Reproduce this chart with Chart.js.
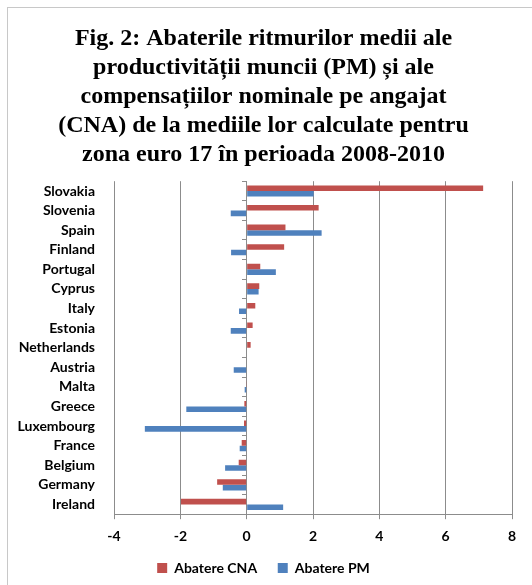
<!DOCTYPE html>
<html>
<head>
<meta charset="utf-8">
<script src="https://cdn.jsdelivr.net/npm/chart.js@4"></script>
<style>
  html, body { margin: 0; padding: 0; background: #fff; overflow: hidden; }
  #wrap { position: relative; width: 532px; height: 585px; }
  #frame { position: absolute; left: 7px; top: 7px; width: 600px; height: 700px; border: 1px solid #c8c8c8; box-sizing: border-box; }
  canvas { position: absolute; left: 0; top: 0; }
</style>
</head>
<body>
<div id="wrap">
  <div id="frame"></div>
  <canvas id="chart" width="532" height="585"></canvas>
</div>
<script>
const countries = ['Slovakia', 'Slovenia', 'Spain', 'Finland', 'Portugal', 'Cyprus', 'Italy', 'Estonia',
    'Netherlands', 'Austria', 'Malta', 'Greece', 'Luxembourg', 'France', 'Belgium', 'Germany', 'Ireland'];
// abaterea compensatiilor nominale pe angajat
const abatereCNA = [7.13, 2.17, 1.17, 1.13, 0.41, 0.38, 0.26, 0.18, 0.12, 0.0, -0.02, -0.07, -0.08, -0.15, -0.24, -0.89, -1.98];
// abaterea productivitatii muncii
const abaterePM = [2.02, -0.48, 2.26, -0.47, 0.88, 0.36, -0.23, -0.48, 0.0, -0.39, -0.06, -1.82, -3.07, -0.21, -0.65, -0.72, 1.10];
const xTicks = [-4, -2, 0, 2, 4, 6, 8];
const titleLines = [
    'Fig. 2: Abaterile ritmurilor medii ale',
    'productivității muncii (PM) și ale',
    'compensațiilor nominale pe angajat',
    '(CNA) de la mediile lor calculate pentru',
    'zona euro 17 în perioada 2008-2010'
];

const labelFont = { family: 'Lato, "Open Sans", sans-serif', size: 14, weight: 'bold' };

new Chart(document.getElementById('chart'), {
    type: 'bar',
    data: {
        labels: countries,
        datasets: [
            { label: 'Abatere CNA', data: abatereCNA, backgroundColor: '#C0504D', borderWidth: 0 },
            { label: 'Abatere PM', data: abaterePM, backgroundColor: '#4F81BD', borderWidth: 0 }
        ]
    },
    options: {
        indexAxis: 'y',
        responsive: false,
        animation: false,
        barPercentage: 1,
        categoryPercentage: 0.57,
        layout: { padding: { left: 15, right: 20, top: 0, bottom: 0 } },
        scales: {
            x: {
                min: xTicks[0],
                max: xTicks[xTicks.length - 1],
                afterBuildTicks: (axis) => { axis.ticks = xTicks.map(v => ({ value: v })); },
                grid: { color: '#8c8c8c', lineWidth: 1, tickLength: 5 },
                border: { color: '#8c8c8c' },
                ticks: { color: '#000', font: labelFont, padding: 9 }
            },
            y: {
                grid: { display: false, drawTicks: false },
                border: { display: false },
                ticks: { color: '#000', font: labelFont, padding: 19, autoSkip: false },
                afterFit: (axis) => { axis.width = 99; }
            },
            y2: {
                type: 'category',
                position: { x: 0 },
                grid: { drawOnChartArea: false, tickLength: 4, color: '#8c8c8c' },
                border: { color: '#8c8c8c' },
                ticks: { display: false, autoSkip: false }
            }
        },
        plugins: {
            title: {
                display: true,
                text: titleLines,
                color: '#000',
                font: { family: '"Liberation Serif", "Times New Roman", serif', size: 24, weight: 'bold', lineHeight: 1.21 },
                padding: { top: 24, bottom: 12 }
            },
            legend: {
                position: 'bottom',
                labels: {
                    color: '#000',
                    font: labelFont,
                    boxWidth: 10,
                    boxHeight: 10,
                    padding: 7,
                    // small vertical padding, so widen the gap between the two items with spaces
                    generateLabels: (chart) => {
                        const items = Chart.defaults.plugins.legend.labels.generateLabels(chart);
                        items[0].text += '    ';
                        return items;
                    }
                }
            },
            tooltip: { enabled: false }
        }
    }
});
</script>
</body>
</html>
